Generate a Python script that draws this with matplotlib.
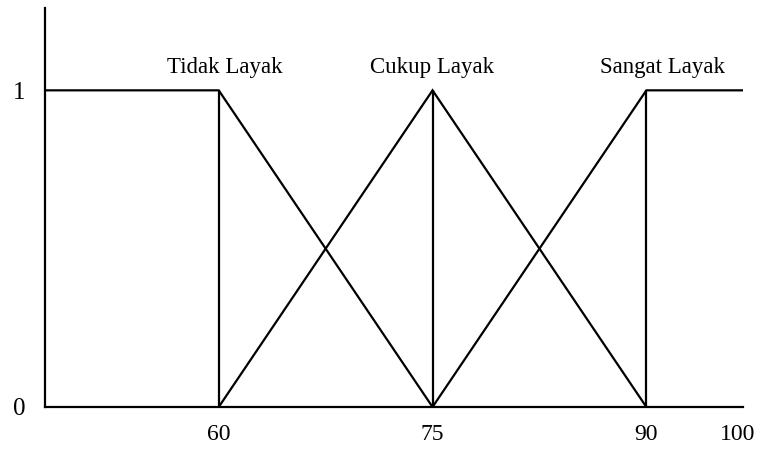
import matplotlib
matplotlib.use("Agg")
import matplotlib.pyplot as plt
from matplotlib.transforms import ScaledTranslation

# Fuzzy membership sets
x_min, x_max = 47.8, 96.8
breakpoints = [60, 75, 90]

tidak_x = [x_min, 60, 75]
tidak_y = [1, 1, 0]
cukup_x = [60, 75, 90]
cukup_y = [0, 1, 0]
sangat_x = [75, 90, x_max]
sangat_y = [0, 1, 1]

set_names = ["Tidak Layak", "Cukup Layak", "Sangat Layak"]
name_x = [60.4, 75, 91.1]

xtick_vals = [60, 75, 90, x_max]
xtick_labels = ["60", "75", "90", "100"]
ytick_vals = [0, 1]
ytick_labels = ["0", "1"]

plt.rcParams["font.family"] = ["Liberation Serif", "DejaVu Serif"]

fig = plt.figure(figsize=(7.6, 4.5), dpi=100)
ax = fig.add_axes([0.059, 0.0956, 0.919, 0.8866])

lw = 1.6
for xs, ys in [(tidak_x, tidak_y), (cukup_x, cukup_y), (sangat_x, sangat_y)]:
    ax.plot(xs, ys, color="black", lw=lw, solid_joinstyle="miter")
ax.vlines(breakpoints, 0, 1, color="black", lw=lw)

for name, nx in zip(set_names, name_x):
    ax.text(nx, 1.055, name, ha="center", va="baseline", fontsize=16.5)

ax.set_xlim(x_min, x_max)
ax.set_ylim(0, 1.26)
ax.set_xticks(xtick_vals, xtick_labels, fontsize=17)
ax.set_yticks(ytick_vals, ytick_labels, fontsize=18)
ax.tick_params(length=0)
ax.tick_params(axis="x", pad=12)
ax.tick_params(axis="y", pad=14)

# pull the "100" label a little inward, as in the original
last = ax.get_xticklabels()[-1]
last.set_transform(last.get_transform() + ScaledTranslation(-4 / 72, 0, fig.dpi_scale_trans))

for s in ["top", "right"]:
    ax.spines[s].set_visible(False)
for s in ["left", "bottom"]:
    ax.spines[s].set_linewidth(lw)

fig.savefig("out.png", dpi=100)
